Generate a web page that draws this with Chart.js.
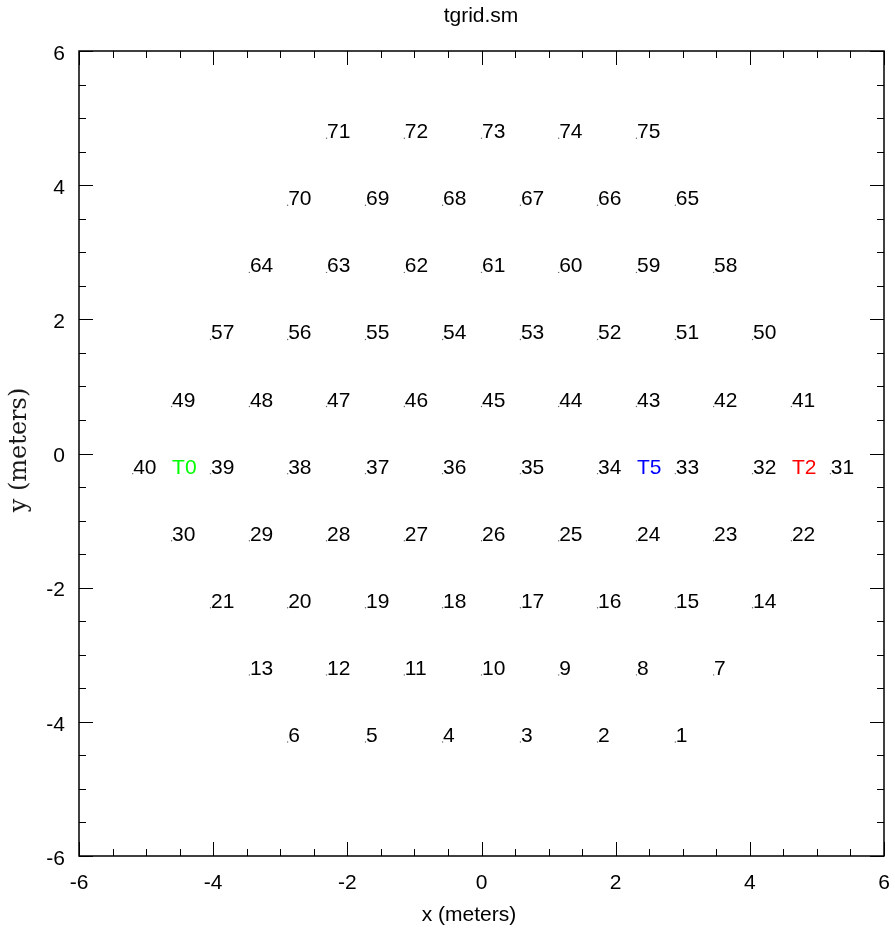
<!DOCTYPE html>
<html>
<head>
<meta charset="utf-8">
<script src="https://cdn.jsdelivr.net/npm/chart.js@4.4.1/dist/chart.umd.min.js"></script>
<style>
html,body{margin:0;padding:0;background:#fff;}
canvas{display:block;}
</style>
</head>
<body>
<canvas id="c" width="895" height="933"></canvas>
<script>
// Grid point labels and positions (meters)
const pointLabels = ["1","2","3","4","5","6",
  "7","8","9","10","11","12","13",
  "14","15","16","17","18","19","20","21",
  "22","23","24","25","26","27","28","29","30",
  "31","32","33","34","35","36","37","38","39","40",
  "41","42","43","44","45","46","47","48","49",
  "50","51","52","53","54","55","56","57",
  "58","59","60","61","62","63","64",
  "65","66","67","68","69","70",
  "71","72","73","74","75"];
const pointX = [2.89,1.73,0.58,-0.58,-1.73,-2.89,
  3.46,2.31,1.15,0,-1.15,-2.31,-3.46,
  4.04,2.89,1.73,0.58,-0.58,-1.73,-2.89,-4.04,
  4.62,3.46,2.31,1.15,0,-1.15,-2.31,-3.46,-4.62,
  5.2,4.04,2.89,1.73,0.58,-0.58,-1.73,-2.89,-4.04,-5.2,
  4.62,3.46,2.31,1.15,0,-1.15,-2.31,-3.46,-4.62,
  4.04,2.89,1.73,0.58,-0.58,-1.73,-2.89,-4.04,
  3.46,2.31,1.15,0,-1.15,-2.31,-3.46,
  2.89,1.73,0.58,-0.58,-1.73,-2.89,
  -2.31,-1.15,0,1.15,2.31];
const pointY = [-4.3,-4.3,-4.3,-4.3,-4.3,-4.3,
  -3.3,-3.3,-3.3,-3.3,-3.3,-3.3,-3.3,
  -2.3,-2.3,-2.3,-2.3,-2.3,-2.3,-2.3,-2.3,
  -1.3,-1.3,-1.3,-1.3,-1.3,-1.3,-1.3,-1.3,-1.3,
  -0.3,-0.3,-0.3,-0.3,-0.3,-0.3,-0.3,-0.3,-0.3,-0.3,
  0.7,0.7,0.7,0.7,0.7,0.7,0.7,0.7,0.7,
  1.7,1.7,1.7,1.7,1.7,1.7,1.7,1.7,
  2.7,2.7,2.7,2.7,2.7,2.7,2.7,
  3.7,3.7,3.7,3.7,3.7,3.7,
  4.7,4.7,4.7,4.7,4.7];
// Target markers
const targetLabels = ["T0","T5","T2"];
const targetX = [-4.62, 2.31, 4.62];
const targetY = [-0.3, -0.3, -0.3];
const targetColors = ["#00ff00","#0000ff","#ff0000"];
// Axis ticks
const axisMin = -6, axisMax = 6, majorStep = 2, minorStep = 0.5;

const FONT = "'Liberation Sans', Arial, sans-serif";

const labelPlugin = {
  id: 'labels',
  afterDatasetsDraw(chart) {
    const ctx = chart.ctx, xs = chart.scales.x, ys = chart.scales.y;
    ctx.save();
    ctx.font = "21px " + FONT;
    ctx.textAlign = 'left';
    ctx.textBaseline = 'alphabetic';
    ctx.fillStyle = '#000';
    pointLabels.forEach((t, i) => {
      ctx.fillText(t, xs.getPixelForValue(pointX[i]) + 0.5, ys.getPixelForValue(pointY[i]));
    });
    targetLabels.forEach((t, i) => {
      ctx.fillStyle = targetColors[i];
      ctx.fillText(t, xs.getPixelForValue(targetX[i]) + 0.5, ys.getPixelForValue(targetY[i]));
    });
    ctx.restore();
  },
  afterDraw(chart) {
    const ctx = chart.ctx, xs = chart.scales.x, ys = chart.scales.y;
    const {left, right, top, bottom} = chart.chartArea;
    ctx.save();
    ctx.strokeStyle = '#000';
    ctx.lineWidth = 1.5;
    ctx.strokeRect(left, top, right - left, bottom - top);
    ctx.lineWidth = 1;
    for (let v = axisMin; v <= axisMax + 1e-9; v += minorStep) {
      const major = Math.abs(v / majorStep - Math.round(v / majorStep)) < 1e-6;
      const len = major ? 14 : 7;
      const px = Math.round(xs.getPixelForValue(v)) + 0.5;
      const py = Math.round(ys.getPixelForValue(v)) + 0.5;
      ctx.beginPath();
      ctx.moveTo(px, bottom); ctx.lineTo(px, bottom - len);
      ctx.moveTo(px, top); ctx.lineTo(px, top + len);
      ctx.moveTo(left, py); ctx.lineTo(left + len, py);
      ctx.moveTo(right, py); ctx.lineTo(right - len, py);
      ctx.stroke();
    }
    // titles
    ctx.fillStyle = '#000';
    ctx.textAlign = 'center';
    ctx.textBaseline = 'middle';
    ctx.font = "21px " + FONT;
    ctx.fillText('tgrid.sm', 481, 16);
    ctx.fillText('x (meters)', 469, 915);
    ctx.save();
    ctx.translate(20, 450);
    ctx.rotate(-Math.PI / 2);
    ctx.fillStyle = '#1a1a1a';
    ctx.font = "24px 'DejaVu Serif', serif";
    ctx.fillText('y (meters)', 0, 0);
    ctx.restore();
    ctx.restore();
  }
};

new Chart(document.getElementById('c'), {
  type: 'scatter',
  data: {
    datasets: [{
      data: pointX.map((x, i) => ({x: x, y: pointY[i]})),
      pointRadius: 0.7,
      pointBorderWidth: 0,
      pointBackgroundColor: '#666',
      pointBorderColor: '#666'
    }]
  },
  options: {
    responsive: false,
    animation: false,
    events: [],
    layout: {padding: {top: 51, right: 11, left: 0, bottom: 0}},
    plugins: {legend: {display: false}, tooltip: {enabled: false}, title: {display: false}},
    scales: {
      x: {
        type: 'linear', min: axisMin, max: axisMax,
        grid: {display: false, drawTicks: false},
        border: {display: false},
        ticks: {stepSize: majorStep, color: '#000', font: {size: 21, family: FONT}, padding: 15, maxRotation: 0},
        afterFit(s) { s.height = 77; s.paddingLeft = 0; s.paddingRight = 0; }
      },
      y: {
        type: 'linear', min: axisMin, max: axisMax,
        grid: {display: false, drawTicks: false},
        border: {display: false},
        ticks: {stepSize: majorStep, color: '#000', font: {size: 21, family: FONT}, padding: 14, labelOffset: 3},
        afterFit(s) { s.width = 79; s.paddingTop = 0; s.paddingBottom = 0; }
      }
    }
  },
  plugins: [labelPlugin]
});
</script>
</body>
</html>
